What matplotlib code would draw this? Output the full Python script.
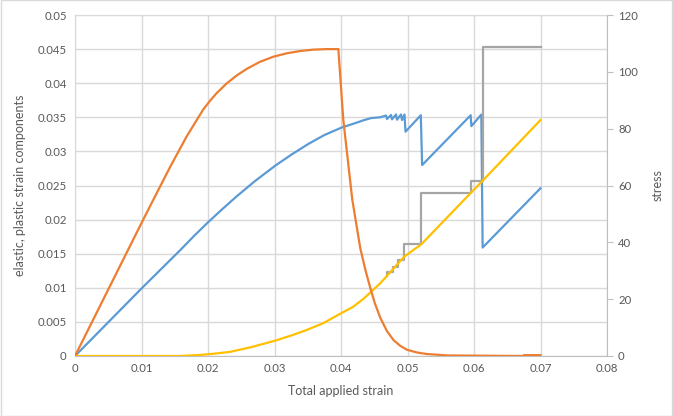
import matplotlib
matplotlib.use("Agg")
import matplotlib.pyplot as plt
from matplotlib.patches import Rectangle

# ---------------- data ----------------
# elastic strain component (left axis)
blue_x = [0.0, 0.0100, 0.0158, 0.0180, 0.0200, 0.0220, 0.0243, 0.0270, 0.0301, 0.0325, 0.0351,
          0.0375, 0.0401, 0.0420, 0.0435, 0.0446, 0.0459,
          0.04677, 0.04692, 0.04752, 0.04767, 0.04827, 0.04842, 0.04902, 0.04917, 0.04955,
          0.04970, 0.05200, 0.05220, 0.05950, 0.05960, 0.06110, 0.06130, 0.07000]
blue_y = [0.0, 0.0099, 0.0155, 0.0177, 0.0196, 0.0214, 0.0234, 0.0256, 0.0279, 0.0295, 0.0311,
          0.0324, 0.0335, 0.0341, 0.0346, 0.0349, 0.0350,
          0.03526, 0.03475, 0.03534, 0.03470, 0.03541, 0.03465, 0.03541, 0.03460, 0.03541,
          0.03289, 0.03530, 0.02800, 0.03530, 0.03370, 0.03540, 0.01590, 0.02460]

# plastic strain component (left axis)
yellow_x = [0.0, 0.0158, 0.0188, 0.0210, 0.0233, 0.0265, 0.0301, 0.0325, 0.0348, 0.0373,
            0.0400, 0.0418, 0.0434, 0.0459, 0.0495, 0.0521, 0.0595, 0.0613, 0.0657, 0.0700]
yellow_y = [0.0, 0.0, 0.00015, 0.00035, 0.0006, 0.0013, 0.00225, 0.0030, 0.0038, 0.0048,
            0.00626, 0.0072, 0.0084, 0.01066, 0.01456, 0.0164, 0.0239, 0.0257, 0.0302, 0.0346]

# stepwise strain component (left axis)
gray_x = [0.0469, 0.0469, 0.0478, 0.0485, 0.0495, 0.0521, 0.0595, 0.0613, 0.0700]
gray_y = [0.0118, 0.01236, 0.01310, 0.01408, 0.01642, 0.02395, 0.02571, 0.04535, 0.04535]

# stress (right axis)
stress_x = [0.0, 0.0100, 0.0120, 0.0143, 0.0168, 0.0183, 0.0193, 0.0203, 0.0213, 0.0228, 0.0243,
            0.0258, 0.0278, 0.0298, 0.0318, 0.0338, 0.0358, 0.0378, 0.0396,
            0.04035, 0.0417, 0.0429, 0.0437, 0.0444, 0.0451, 0.0459, 0.0469, 0.0479, 0.0489,
            0.0499, 0.0515, 0.0529, 0.0560, 0.0674, 0.0675, 0.0700]
stress_y = [0.0, 46.8, 56.0, 66.5, 77.3, 83.0, 86.8, 89.8, 92.5, 95.9, 98.7,
            101.0, 103.5, 105.3, 106.5, 107.3, 107.8, 108.0, 108.0,
            83.0, 55.0, 37.9, 30.0, 24.0, 18.5, 13.5, 8.8, 5.6, 3.6,
            2.2, 1.2, 0.7, 0.2, 0.0, 0.3, 0.3]

x_ticks = [0, 0.01, 0.02, 0.03, 0.04, 0.05, 0.06, 0.07, 0.08]
x_labels = ["0", "0.01", "0.02", "0.03", "0.04", "0.05", "0.06", "0.07", "0.08"]
left_ticks = [0, 0.005, 0.01, 0.015, 0.02, 0.025, 0.03, 0.035, 0.04, 0.045, 0.05]
left_labels = ["0", "0.005", "0.01", "0.015", "0.02", "0.025", "0.03", "0.035", "0.04", "0.045", "0.05"]
right_ticks = [0, 20, 40, 60, 80, 100, 120]
right_labels = ["0", "20", "40", "60", "80", "100", "120"]

x_title = "Total applied strain"
left_title = "elastic, plastic strain components"
right_title = "stress"

# ---------------- style ----------------
plt.rcParams["font.family"] = ["Lato", "DejaVu Sans"]
TXT = "#595959"
GRID = "#d9d9d9"
AXLINE = "#bfbfbf"

fig = plt.figure(figsize=(6.73, 4.16), dpi=100)
fig.patches.append(Rectangle((0.0008, 0.0012), 0.9984, 0.9976, transform=fig.transFigure,
                             fill=False, edgecolor=GRID, linewidth=1.0))

ax = fig.add_axes([75 / 673, 60 / 416, 532 / 673, 341 / 416])
ax.set_xlim(0, 0.08)
ax.set_ylim(0, 0.05)
ax.set_xticks(x_ticks)
ax.set_xticklabels(x_labels)
ax.set_yticks(left_ticks)
ax.set_yticklabels(left_labels)
ax.grid(True, color=GRID, linewidth=1.0)
ax.set_axisbelow(True)
ax.tick_params(axis="both", length=0, labelsize=8.2, labelcolor=TXT)
ax.tick_params(axis="y", pad=6)
ax.tick_params(axis="x", pad=5)
for s in ["top", "left"]:
    ax.spines[s].set_color(GRID)
ax.spines["right"].set_visible(False)
ax.spines["bottom"].set_color(AXLINE)

lw = 1.6
ax.plot(blue_x, blue_y, color="#5B9BD5", linewidth=lw, zorder=3, solid_joinstyle="round")
ax.plot(gray_x, gray_y, color="#A5A5A5", linewidth=lw, drawstyle="steps-post", zorder=4)
ax.plot(yellow_x, yellow_y, color="#FFC000", linewidth=lw, zorder=5, solid_joinstyle="round")

ax.set_xlabel(x_title, fontsize=9, color=TXT, labelpad=8)
ax.set_ylabel(left_title, fontsize=9, color=TXT, labelpad=8)

ax2 = ax.twinx()
ax2.set_ylim(0, 120)
ax2.set_yticks(right_ticks)
ax2.set_yticklabels(right_labels)
ax2.tick_params(axis="y", length=4, width=0.8, color=AXLINE, labelsize=8.2, labelcolor=TXT, pad=4)
for s in ["top", "left", "bottom"]:
    ax2.spines[s].set_visible(False)
ax2.spines["right"].set_color(AXLINE)
ax2.plot(stress_x, stress_y, color="#ED7D31", linewidth=lw, zorder=6, solid_joinstyle="round")
ax2.set_ylabel(right_title, fontsize=9, color=TXT, labelpad=10)

fig.savefig("out.png", dpi=100)
